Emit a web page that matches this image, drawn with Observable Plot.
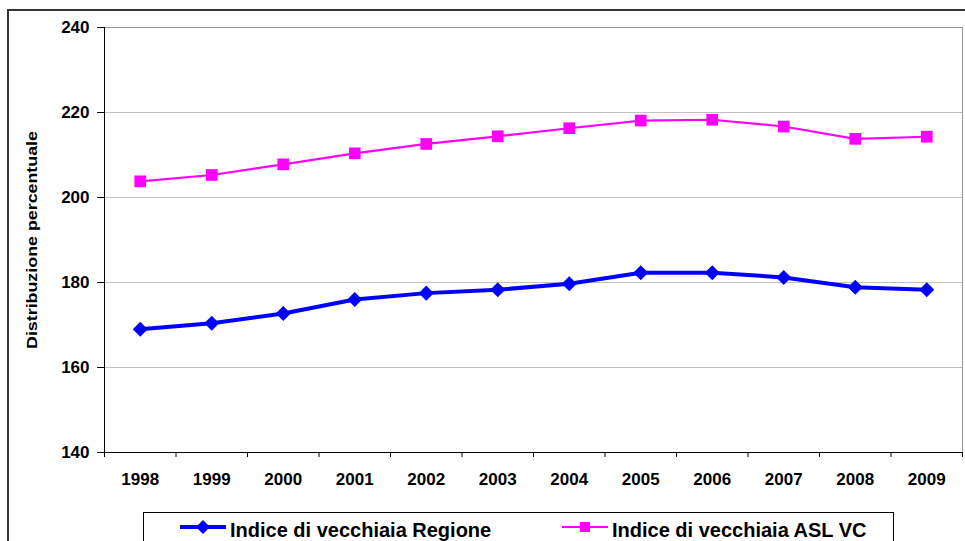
<!DOCTYPE html>
<html>
<head>
<meta charset="utf-8">
<script src="https://cdn.jsdelivr.net/npm/d3@7"></script>
<script src="https://cdn.jsdelivr.net/npm/@observablehq/plot@0.6"></script>
<style>
  html, body { margin: 0; padding: 0; background: #fff; overflow: hidden; }
  body { width: 965px; height: 541px; position: relative; font-family: "Liberation Sans", Arial, sans-serif; }
  #outer { position: absolute; left: 7px; top: 9px; width: 1000px; height: 600px; border-top: 2px solid #333; border-left: 2px solid #333; }
  #chart { position: absolute; left: 0; top: 0; }
  #legend { position: absolute; left: 143px; top: 512px; width: 749px; height: 40px; border: 1px solid #000; background: #fff; }
  .item { position: absolute; top: 0; height: 28px; display: flex; align-items: center; font-weight: bold; font-size: 20px; line-height: 28px; color: #000; white-space: nowrap; }
  .item svg { margin-right: 4px; }
  .item span { position: relative; top: 3px; }
</style>
</head>
<body>
<div id="outer"></div>
<div id="chart"></div>
<div id="legend"></div>
<script>
const years = [1998, 1999, 2000, 2001, 2002, 2003, 2004, 2005, 2006, 2007, 2008, 2009];
const regione = [169.0, 170.4, 172.7, 176.0, 177.5, 178.3, 179.7, 182.3, 182.3, 181.2, 178.9, 178.3];
const aslVC = [203.8, 205.3, 207.8, 210.4, 212.6, 214.4, 216.3, 218.1, 218.3, 216.7, 213.8, 214.3];
const yTicks = [140, 160, 180, 200, 220, 240];
const seriesNames = ["Indice di vecchiaia Regione", "Indice di vecchiaia ASL VC"];
const seriesColors = ["#0000ff", "#ff00ff"];
const yTitle = "Distribuzione percentuale";

const dataReg = years.map((y, i) => ({year: y, value: regione[i]}));
const dataAsl = years.map((y, i) => ({year: y, value: aslVC[i]}));
const boundaries = years.map(y => y - 0.5).concat([years[years.length - 1] + 0.5]);

const chart = Plot.plot({
  width: 965,
  height: 541,
  marginLeft: 104,
  marginRight: 3,
  marginTop: 27,
  marginBottom: 89,
  style: {fontFamily: "'Liberation Sans', Arial, sans-serif", fontWeight: "bold", fontSize: "17px", background: "transparent", color: "#000"},
  x: {domain: [boundaries[0], boundaries[boundaries.length - 1]], label: null},
  y: {domain: [yTicks[0], yTicks[yTicks.length - 1]], label: null},
  marks: [
    Plot.gridY(yTicks, {stroke: "#c0c0c0", strokeOpacity: 1}),
    Plot.frame({stroke: "#999"}),
    Plot.frame({anchor: "left", stroke: "#000"}),
    Plot.frame({anchor: "bottom", stroke: "#000"}),
    Plot.axisY(yTicks, {tickSize: 7, tickPadding: 8, label: null, fontSize: 17, stroke: "#000"}),
    Plot.axisX(boundaries, {tickSize: 5, tickFormat: () => "", label: null, stroke: "#000"}),
    Plot.axisX(years, {tickSize: 0, tickPadding: 20, tickFormat: d => String(d), label: null, fontSize: 17}),
    Plot.text([yTitle], {text: d => d, frameAnchor: "left", textAnchor: "middle", dx: -72, rotate: -90, fontSize: 15, fontWeight: "bold", className: "ytitle"}),
    Plot.line(dataAsl, {x: "year", y: "value", stroke: seriesColors[1], strokeWidth: 2.2}),
    Plot.dot(dataAsl, {x: "year", y: "value", symbol: "square", r: 6.6, fill: seriesColors[1], stroke: "none"}),
    Plot.line(dataReg, {x: "year", y: "value", stroke: seriesColors[0], strokeWidth: 4}),
    Plot.dot(dataReg, {x: "year", y: "value", symbol: "square", r: 6, rotate: 45, fill: seriesColors[0], stroke: "none"})
  ]
});
document.getElementById("chart").appendChild(chart);
// stretch the axis title along its length, as in the original
chart.querySelectorAll(".ytitle text").forEach(t => {
  t.setAttribute("textLength", "218");
  t.setAttribute("lengthAdjust", "spacingAndGlyphs");
});

const legend = document.getElementById("legend");
const itemLeft = [36, 418];
seriesNames.forEach((name, i) => {
  const div = document.createElement("div");
  div.className = "item";
  div.style.left = itemLeft[i] + "px";
  const marker = i === 0
    ? `<path d="M23,7 L30,14 L23,21 L16,14 Z" fill="${seriesColors[0]}"/>`
    : `<rect x="18" y="9" width="10" height="10" fill="${seriesColors[1]}"/>`;
  const sw = i === 0 ? 4 : 2.2;
  div.innerHTML = `<svg width="46" height="28"><line x1="0" x2="46" y1="14" y2="14" stroke="${seriesColors[i]}" stroke-width="${sw}"/>${marker}</svg><span>${name}</span>`;
  legend.appendChild(div);
});
</script>
</body>
</html>
